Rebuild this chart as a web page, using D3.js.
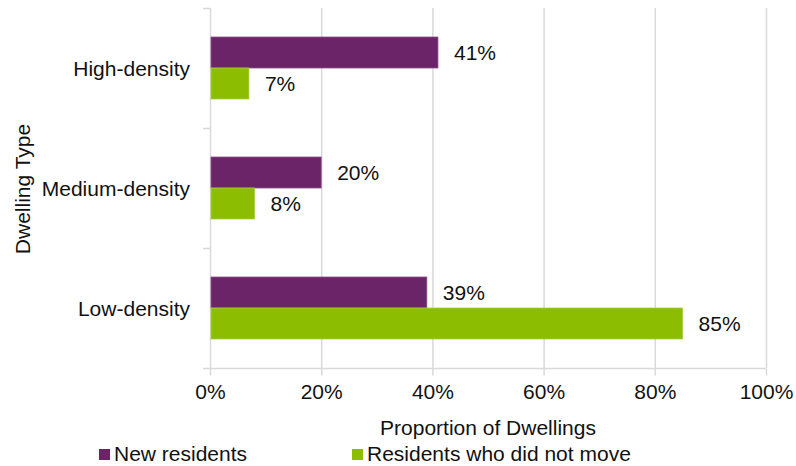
<!DOCTYPE html>
<html>
<head>
<meta charset="utf-8">
<script src="https://cdn.jsdelivr.net/npm/d3@7/dist/d3.min.js"></script>
<style>
  html, body { margin: 0; padding: 0; background: #fff; }
  svg text { font-family: "Liberation Sans", Arial, sans-serif; fill: #111; }
</style>
</head>
<body>
<svg id="chart" width="796" height="466"></svg>
<script>
// Dwelling types, top to bottom
const categories = ["High-density", "Medium-density", "Low-density"];
// Share of dwellings (%) for each group
const newResidents = [41, 20, 39];
const stayedResidents = [7, 8, 85];
const seriesNames = ["New residents", "Residents who did not move"];
const seriesColors = ["#6b2468", "#8cbd00"];
const seriesStrokes = ["#8c5289", "#a6cf40"];
const xTicks = [0, 20, 40, 60, 80, 100];

const svg = d3.select("#chart");
const fontSize = 21;
const plot = { left: 210, right: 766, top: 8, bottom: 368 };
const gridColor = "#d9d9d9";

const x = d3.scaleLinear().domain([0, 100]).range([plot.left, plot.right]);
const y0 = d3.scaleBand().domain(categories).range([plot.top, plot.bottom]).padding(0);
const barH = 31;
const y1 = d3.scaleBand().domain([0, 1])
  .range([y0.bandwidth() / 2 - barH, y0.bandwidth() / 2 + barH]).padding(0);

// vertical gridlines
svg.append("g").selectAll("line")
  .data(xTicks.filter(t => t > 0))
  .join("line")
  .attr("x1", d => x(d) + 0.5).attr("x2", d => x(d) + 0.5)
  .attr("y1", plot.top).attr("y2", plot.bottom)
  .attr("stroke", gridColor).attr("stroke-width", 1.5);

// bottom axis
const xAxis = d3.axisBottom(x).tickValues(xTicks).tickSize(7).tickPadding(9)
  .tickFormat(d => d + "%");
const gx = svg.append("g").attr("transform", `translate(0,${plot.bottom + 0.5})`).call(xAxis);
gx.select(".domain").attr("stroke", gridColor).attr("stroke-width", 1.5)
  .attr("d", `M${plot.left},0H${plot.right}`);
gx.selectAll(".tick line").attr("stroke", gridColor).attr("stroke-width", 1.5);
gx.selectAll(".tick text").style("font-size", fontSize + "px")
  .style("font-family", "Liberation Sans, Arial, sans-serif").attr("fill", "#111");

// left axis: line with ticks at category boundaries
const gy = svg.append("g");
gy.append("line")
  .attr("x1", plot.left + 0.5).attr("x2", plot.left + 0.5)
  .attr("y1", plot.top).attr("y2", plot.bottom)
  .attr("stroke", gridColor).attr("stroke-width", 1.5);
const boundaries = categories.map(c => y0(c)).concat([y0(categories[categories.length - 1]) + y0.bandwidth()]);
gy.selectAll("line.tk").data(boundaries).join("line").attr("class", "tk")
  .attr("x1", plot.left - 7).attr("x2", plot.left)
  .attr("y1", d => d + 0.5).attr("y2", d => d + 0.5)
  .attr("stroke", gridColor).attr("stroke-width", 1.5);
gy.selectAll("text").data(categories).join("text")
  .attr("x", 190).attr("y", d => y0(d) + y0.bandwidth() / 2)
  .attr("dy", "0.36em").attr("text-anchor", "end")
  .style("font-size", fontSize + "px").text(d => d);

// bars
const rows = categories.map((c, i) => ({ cat: c, vals: [newResidents[i], stayedResidents[i]] }));
const groups = svg.append("g").selectAll("g").data(rows).join("g")
  .attr("transform", d => `translate(0,${y0(d.cat)})`);
groups.selectAll("rect").data(d => d.vals.map((v, s) => ({ v, s })))
  .join("rect")
  .attr("x", x(0) + 1)
  .attr("y", d => y1(d.s))
  .attr("width", d => x(d.v) - x(0) - 1)
  .attr("height", y1.bandwidth())
  .attr("fill", d => seriesColors[d.s])
  .attr("stroke", d => seriesStrokes[d.s]).attr("stroke-width", 0.8);
groups.selectAll("text").data(d => d.vals.map((v, s) => ({ v, s })))
  .join("text")
  .attr("x", d => x(d.v) + 16)
  .attr("y", d => y1(d.s) + y1.bandwidth() / 2)
  .attr("dy", "0.36em")
  .style("font-size", fontSize + "px")
  .text(d => d.v + "%");

// axis titles
svg.append("text")
  .attr("x", (plot.left + plot.right) / 2).attr("y", 435)
  .attr("text-anchor", "middle").style("font-size", fontSize + "px")
  .text("Proportion of Dwellings");
svg.append("text")
  .attr("transform", "translate(30,189) rotate(-90)")
  .attr("text-anchor", "middle").style("font-size", fontSize + "px")
  .text("Dwelling Type");

// legend
const legendX = [99, 352];
const leg = svg.append("g").selectAll("g").data(seriesNames).join("g")
  .attr("transform", (d, i) => `translate(${legendX[i]},449)`);
leg.append("rect").attr("width", 11).attr("height", 11)
  .attr("fill", (d, i) => seriesColors[i]);
leg.append("text").attr("x", 15).attr("y", 12)
  .style("font-size", fontSize + "px").text(d => d);
</script>
</body>
</html>
